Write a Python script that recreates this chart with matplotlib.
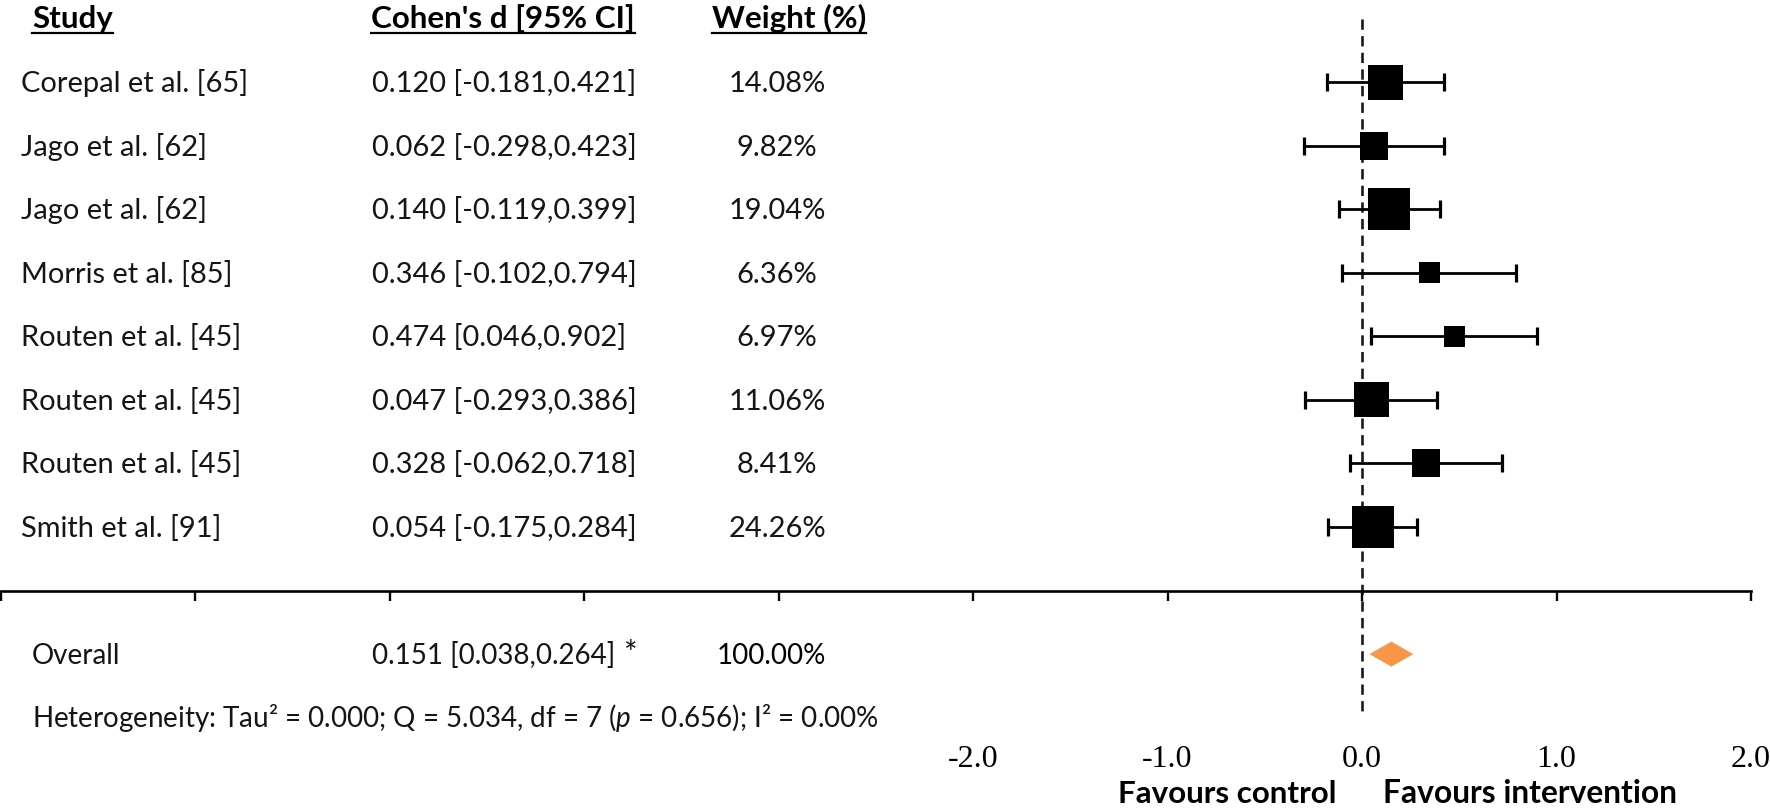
import numpy as np
import matplotlib
matplotlib.use("Agg")
import matplotlib.pyplot as plt
from matplotlib.transforms import blended_transform_factory
from matplotlib.patches import Polygon
from matplotlib.lines import Line2D

# ---------------- data ----------------
studies = ["Corepal et al. [65]", "Jago et al. [62]", "Jago et al. [62]",
           "Morris et al. [85]", "Routen et al. [45]", "Routen et al. [45]",
           "Routen et al. [45]", "Smith et al. [91]"]
cohens_d = [0.120, 0.062, 0.140, 0.346, 0.474, 0.047, 0.328, 0.054]
ci_low = [-0.181, -0.298, -0.119, -0.102, 0.046, -0.293, -0.062, -0.175]
ci_high = [0.421, 0.423, 0.399, 0.794, 0.902, 0.386, 0.718, 0.284]
weights = [14.08, 9.82, 19.04, 6.36, 6.97, 11.06, 8.41, 24.26]

overall_label = "Overall"
overall_d = 0.151
overall_low = 0.038
overall_high = 0.264
overall_weight = 100.00
overall_mark = "*"
heterogeneity = (r"Heterogeneity: Tau² = 0.000; Q = 5.034, df = 7 "
                 r"($\mathit{p}$ = 0.656); I² = 0.00%")

headers = ["Study", "Cohen's d [95% CI]", "Weight (%)"]
tick_values = [-2.0, -1.0, 0.0, 1.0, 2.0]
tick_labels = ["-2.0", "-1.0", "0.0", "1.0", "2.0"]
minor_tick_values = [-7, -6, -5, -4, -3]
favours = ["Favours control", "Favours intervention"]

# ---------------- layout ----------------
W, H = 1770, 809
X0_PX, UNIT_PX = 1362.0, 194.5      # pixel of d = 0, pixels per unit of d
ROW0_PX, ROW_PX = 82.0, 63.57       # pixel of first study row, row spacing

plt.rcParams['font.family'] = ['Lato', 'DejaVu Sans']
plt.rcParams['mathtext.fontset'] = 'custom'
plt.rcParams['mathtext.rm'] = 'Lato'
plt.rcParams['mathtext.it'] = 'Lato:italic'

TXT = '#151515'
FS = 20.9
FS_OV = 20.0
FS_HEAD = 22.6

fig = plt.figure(figsize=(W / 100, H / 100), dpi=100)
ax = fig.add_axes([0, 0, 1, 1])
ax.set_xlim((0 - X0_PX) / UNIT_PX, (W - X0_PX) / UNIT_PX)
ax.set_ylim((H - ROW0_PX) / ROW_PX, (0 - ROW0_PX) / ROW_PX)
ax.patch.set_visible(False)

def py(px):
    """pixel row (from top) -> data y"""
    return (px - ROW0_PX) / ROW_PX

fx = blended_transform_factory(fig.transFigure, ax.transData)

n = len(studies)
rows = np.arange(n)
overall_row = n + 1
het_row = n + 2
axis_row = n

# --- x axis (bottom spine placed at the axis row) ---
for s in ['top', 'left', 'right']:
    ax.spines[s].set_visible(False)
ax.spines['bottom'].set_position(('data', axis_row))
ax.spines['bottom'].set_bounds(min(minor_tick_values), max(tick_values))
ax.spines['bottom'].set_linewidth(1.9)
ax.set_yticks([])
ax.set_xticks(tick_values)
ax.set_xticklabels(tick_labels, fontfamily='Liberation Serif', fontsize=23, color='black')
ax.set_xticks(minor_tick_values, minor=True)
ax.tick_params(axis='x', which='both', direction='out', length=7.5, width=1.7,
               color='black')
ax.tick_params(axis='x', which='major', pad=104)

# --- zero line ---
ax.vlines(0, py(19), py(717), colors='#1a1a1a', linewidth=1.9,
          linestyles=(0, (3.9, 2.4)), zorder=1, clip_on=False)

# --- study estimates ---
d = np.array(cohens_d)
lo = np.array(ci_low)
hi = np.array(ci_high)
ax.errorbar(d, rows, xerr=[d - lo, hi - d], fmt='none', ecolor='black',
            elinewidth=2.0, capsize=6.2, capthick=2.3, zorder=2)
box_px = 21 + 7 * np.digitize(weights, [8, 11, 17])
ax.scatter(d, rows, marker='s', s=(box_px * 0.72) ** 2, color='black',
           edgecolors='none', zorder=3)

# --- overall diamond ---
h = 12.5 / ROW_PX
diamond = Polygon([(overall_low, overall_row), (overall_d, overall_row - h),
                   (overall_high, overall_row), (overall_d, overall_row + h)],
                  closed=True, facecolor='#F79646', edgecolor='none', zorder=3,
                  clip_on=False)
ax.add_patch(diamond)

# --- text columns ---
base = 10.0 / ROW_PX
for i in range(n):
    ax.text(21 / W, i + base, studies[i], transform=fx, fontsize=FS,
            color=TXT, ha='left', va='baseline')
    ax.text(372 / W, i + base,
            f"{cohens_d[i]:.3f} [{ci_low[i]:.3f},{ci_high[i]:.3f}]",
            transform=fx, fontsize=FS, color=TXT, ha='left', va='baseline')
    ax.text(777 / W, i + base, f"{weights[i]:.2f}%", transform=fx,
            fontsize=FS, color=TXT, ha='center', va='baseline')

ax.text(32 / W, overall_row + base, overall_label, transform=fx,
        fontsize=FS_OV, color=TXT, ha='left', va='baseline')
ax.text(372 / W, overall_row + base,
        f"{overall_d:.3f} [{overall_low:.3f},{overall_high:.3f}]",
        transform=fx, fontsize=FS_OV, color=TXT, ha='left', va='baseline')
ax.text(624 / W, overall_row + base, overall_mark, transform=fx, fontsize=23,
        color=TXT, ha='left', va='baseline')
ax.text(771 / W, overall_row + base, f"{overall_weight:.2f}%", transform=fx,
        fontsize=FS_OV, color='black', ha='center', va='baseline')

ax.text(32 / W, het_row + 9.0 / ROW_PX, heterogeneity, transform=fx,
        fontsize=20.0, color=TXT, ha='left', va='baseline')

# --- headers (bold, underlined) ---
header_x = [32, 371, 712]
header_txt = []
for hx, ht in zip(header_x, headers):
    header_txt.append(ax.text(hx / W, py(28), ht, transform=fx, fontsize=FS_HEAD,
                              fontweight='bold', color='black', ha='left',
                              va='baseline'))

# --- favours labels ---
ax.text(-25 / UNIT_PX, py(803), favours[0], fontsize=22.6, fontweight='bold',
        color='black', ha='right', va='baseline', clip_on=False)
ax.text(21 / UNIT_PX, py(803), favours[1], fontsize=22.9, fontweight='bold',
        color='black', ha='left', va='baseline', clip_on=False)

# underline the headers using their rendered extents
fig.canvas.draw()
renderer = fig.canvas.get_renderer()
for t in header_txt:
    bb = t.get_window_extent(renderer)
    yu = 1 - 32.5 / H
    fig.add_artist(Line2D([bb.x0 / W, bb.x1 / W], [yu, yu],
                          transform=fig.transFigure, color='black',
                          linewidth=1.6))

fig.savefig('out.png', dpi=100)
